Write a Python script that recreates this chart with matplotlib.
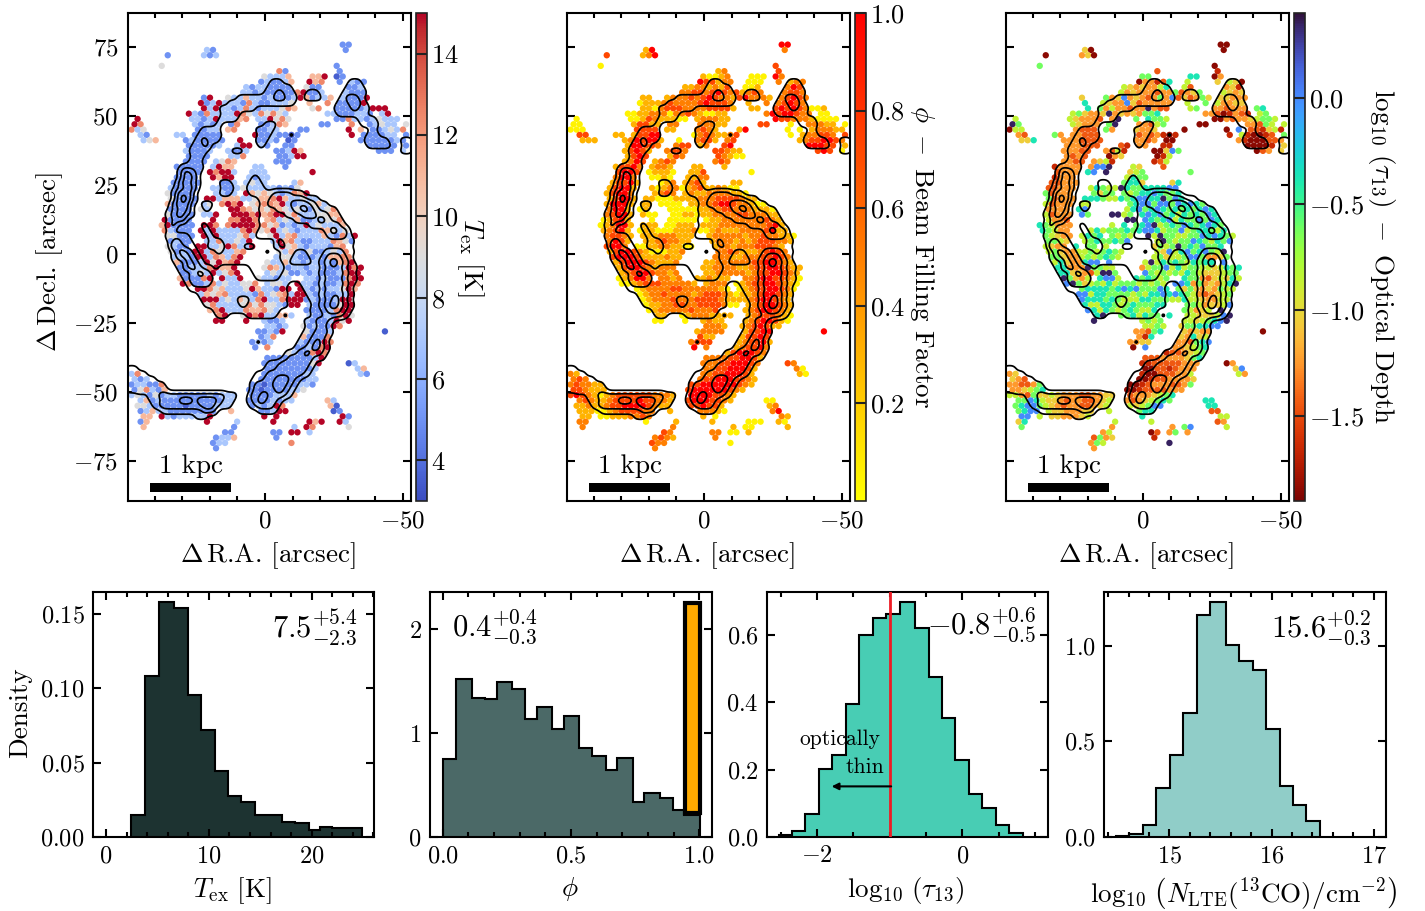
#!/usr/bin/env python3
"""
Molecular gas maps (T_ex, beam filling, optical depth) and the matching histograms
"""

import matplotlib
matplotlib.use('Agg')
import numpy as np
import matplotlib.pyplot as plt
from matplotlib.patches import Rectangle
from matplotlib.ticker import MultipleLocator
from matplotlib.tri import Triangulation, LinearTriInterpolator

plt.rcParams['font.family'] = 'cmr10'
plt.rcParams['mathtext.fontset'] = 'cm'
plt.rcParams['axes.linewidth'] = 1.5

# Hexagonal sightline grid on the sky (arcsec)
RA_START, RA_STEP = 48.31, 2.185
DEC_START, DEC_STEP = 75.84, 1.924

TEX_VALUES = [3.5, 5.0, 7.0, 9.0, 11.0, 12.5, 15.0]
TEX_ROWS = [
    "35:11", "12:21 35:1", "6:1 12:212", "", "5:3 34:1", "24:51 34:1",
    "22:32224 30:446 34:01", "21:121124 29:645 34:1 36:211", "19:21221111 29:311 36:112",
    "18:22121111156112 35:2111", "12:16 16:322422121112641224 35:21116",
    "11:6126 15:222152112223 29:4 32:5 34:11116",
    "12:6262212521222354 30:35 34:111112666",
    "9:62152222653253532 32:22111221 41:26",
    "1:6 10:221262 16:2245 21:226353 34:11522123222",
    "0:65 10:21212 16:15 21:11254 31:11 36:5 39:12322 45:3",
    "0:523 11:1122 16:45 21:1122 28:11 36:6 38:4 40:11232 45:5",
    "1:21 7:22 10:11111 20:6 21:1121 25:101 36:6 38:111122 45:1",
    "2:234 9:1211111 18:6 21:1121 26:01 38:1 39:111112 45:1",
    "9:111112 17:266 21:21 25:11 39:11111 45:1",
    "9:21112 16:2112 24:11264 41:111 45:2",
    "9:1111 16:225 24:11266", "9:1111 14:2354 24:111",
    "7:11111 13:2644 20:22 25:1", "8:1111 13:65662 20:222 30:6",
    "7:1111 13:6466 19:2122", "7:11111 15:112 19:2322 27:24",
    "6:21111 13:22112 18:3222221213", "6:31111 14:2212 19:64343212546",
    "6:31111 12:66 14:24442 19:234456422322",
    "6:41111 12:23 15:5656 20:3455462122342",
    "6:1111 11:32 16:665 19:434354323213235",
    "6:31111 12:22 14:6 17:66656 22:4566352223344",
    "5:61111 13:6 16:55665 22:4523241122335",
    "5:461111 12:665 16:566665 22:53412126232224",
    "5:52111 11:6262 15:222565 21:346232122254323",
    "6:33111 12:626222 18:352 23:362452222421526",
    "6:1211 12:22522326 23:26452112225431",
    "6:3211 11:6622365226 24:263421222145",
    "6:3121662532245 24:324213112325",
    "7:222166254256 24:2332111214455",
    "7:41112636456 22:322422122121456",
    "8:1122256446 22:35421221221112656",
    "8:1123262356 22:2323112121112566",
    "8:411156 15:6226 21:322122 29:2212111566",
    "8:6511252322335 22:2332 27:62212112565",
    "11:66534222364 22:22166 28:6212122364",
    "11:24345222215 22:23452 27:6621211226",
    "12:66623243256225 26:666 29:12111266",
    "12:35222235353321 26:66 29:21111366",
    "13:456222544532 29:11112566",
    "14:56 18:3656224 25:42 29:21121563",
    "14:66 19:6 22:2112 29:21112636",
    "22:2212 28:3121165", "21:11216 29:31112 42:0", "21:125 28:41115",
    "20:1212 28:211165", "20:1 22:5 27:112156", "26:3211565",
    "22:1111111126", "22:1111111136 36:02", "22:111111112 37:24",
    "0:25 22:111111122 38:21", "0:212 21:1111111122",
    "0:122115 20:11011111221", "0:135214 19:1101111223",
    "0:232131221111121222 20:11112224", "1:2412111111111122 19:11112122 32:42",
    "1:3321111101111222 20:121265 33:40", "1:1242211111111 16:4 21:11266 33:01",
    "2:44 5:621222226 22:6 24:6 35:61", "1:14 12:6 17:2 23:6 29:646 34:62",
    "2:4 17:1 27:2 29:65 36:3", "15:11 23:11 26:66 29:2", "14:1224 24:1",
    "13:122 26:5", "14:1",
]

PHI_VALUES = [0.05, 0.3, 0.5, 0.72, 1.0]
PHI_ROWS = [
    "35:44", "12:14 35:2", "6:3 12:124", "", "5:0 34:3", "24:12 34:3",
    "22:10012 30:000 34:42", "21:433122 29:000 34:2 36:122", "19:11221213 29:001 36:243",
    "18:22332343231232 35:2332", "12:11 16:122232343221342221 35:23432",
    "11:0111 15:232222343332 29:1 32:2 34:23432",
    "12:1102333222233331 30:11 34:343432001",
    "9:00112220223210011 32:24344322 41:00",
    "1:0 10:001321 16:1100 21:122211 34:43322210000",
    "0:00 10:13311 16:22 21:22211 31:33 36:0 39:22211 45:0",
    "0:000 11:3333 16:11 21:2321 28:14 36:0 38:0 40:12221 45:1",
    "1:33 7:11 10:13344 20:0 21:2321 25:123 36:0 38:122332 45:3",
    "2:111 9:1243441 18:0 21:2331 26:23 38:1 39:233443 45:2",
    "9:144332 17:233 21:12 25:34 39:44433 45:1",
    "9:13431 16:2332 24:33211 41:343 45:0",
    "9:1343 16:132 24:32100", "9:1243 14:1232 24:232",
    "7:13342 13:1221 20:11 25:1", "8:3443 13:01110 20:113 30:0",
    "7:2442 13:0010 19:1122", "7:13341 15:012 19:1231 27:11",
    "6:13441 13:10122 18:0123112100", "6:13442 14:1232 19:12112222110",
    "6:13441 12:11 14:00011 19:112223333211",
    "6:14441 12:11 15:0000 20:1122344322100",
    "6:2441 11:01 16:000 19:001122332221110",
    "6:23441 12:10 14:0 17:00110 22:1122223322211",
    "5:01341 13:0 16:00000 22:0112222222321",
    "5:012441 12:111 16:00111 22:11122222222341",
    "5:12341 11:0110 15:001112 21:001211122223411",
    "6:23321 12:111222 18:111 23:122222122322110",
    "6:2431 12:11232211 23:12221212333221",
    "6:3442 11:0011221100 24:122122233321",
    "6:1344321000112 24:223211123432",
    "7:344431111211 24:2221122233432",
    "7:13444321112 22:112222223344321",
    "8:1344321222 22:11222211233443211",
    "8:1234432212 22:1122222123344321",
    "8:012442 15:2212 21:112111 29:2234433210",
    "8:0012333222221 22:1222 27:01233443210",
    "11:01222233222 22:22210 28:0123344320",
    "11:01223222212 22:33321 27:0112344321",
    "12:01222322233332 26:111 29:12344321",
    "12:01122332233332 26:00 29:12344321",
    "13:012222232223 29:12344321",
    "14:11 18:0122211 25:11 29:12333210",
    "14:00 19:0 22:1211 29:12344310",
    "22:2221 28:1234311", "21:12222 29:13344 42:4", "21:311 28:13343",
    "20:2333 28:123341", "20:4 22:2 27:123342", "26:1344432",
    "22:2222334431", "22:2223344432 36:32", "22:223344431 37:20",
    "0:21 22:223344431 38:10", "0:232 21:2334443321",
    "0:232211 20:33444444321", "0:332111 19:3444444321",
    "0:343210123333332221 20:44443321", "1:2321123333433221 19:34443321 32:00",
    "1:1121123344443211 20:334331 33:12", "1:1110012333322 16:1 21:22210 33:24",
    "2:11 5:001112232 22:1 24:0 35:21", "1:22 12:0 17:1 23:1 29:000 34:10",
    "2:2 17:2 27:1 29:00 36:1", "15:32 23:22 26:00 29:1", "14:2321 24:2",
    "13:322 26:0", "14:2",
]

TAU_VALUES = [-1.85, -1.65, -1.45, -1.25, -1.05, -0.85, -0.62, -0.38, 0.0, 0.35]
TAU_ROWS = [
    "35:00", "12:40 35:0", "6:0 12:340", "", "5:6 34:0", "24:2 34:1",
    "22:66. 30:77 34:03", "21:033127 29:5 34:4 36:540", "19:54343357 29:52 36:341",
    "18:53433323362346 35:5434", "12:4. 16:634834323638242364 35:44333",
    "11:.7.. 15:543384233333 29:5 32:6 34:53344",
    "12:.7.635332339322. 30:56 34:332333.67",
    "9:.564334934343667. 32:33201321 41:56",
    "1:5 10:543332 16:.39. 21:6.7665 34:00323345665",
    "0:96 10:54333 16:69 21:33256 31:00 36:. 39:33265 45:5",
    "0:055 11:3222 16:63 21:4334 28:.0 36:0 38:8 40:22145 45:1",
    "1:32 7:63 10:33222 20:. 21:2323 25:101 36:1 38:5 39:10012 45:6",
    "2:447 9:3332222 18:. 21:3323 26:00 38:3 39:100022 45:3",
    "9:333222 17:.21 21:33 25:11 39:00001 45:4",
    "9:33322 16:3251 24:00486 41:023 45:4",
    "9:3232 16:034 24:015..", "9:3322 14:3451 24:125",
    "7:13333 13:3889 20:54 25:2", "8:2333 13:78.9. 20:456 30:6",
    "7:1333 13:.... 19:5766", "7:22333 15:... 19:6774 27:47",
    "6:22333 13:57655 18:9766777788", "6:62333 14:6466 19:6567787667",
    "6:62333 12:77 14:76557 19:6788779687",
    "6:52333 12:55 15:.... 20:6788688687876",
    "6:3333 11:78 16:... 19:578678767676787",
    "6:52333 12:86 14:. 17:9956. 22:7878675767687",
    "5:.5332 13:. 16:...99 22:8767857668687",
    "5:765333 12:... 16:.5.7.6 22:78956768767876",
    "5:76533 11:..57 15:566676 21:788756685677657",
    "6:65433 12:5767.6 18:565 23:959665566878765",
    "6:6654 12:56766768 23:.5965668765768",
    "6:5433 11:7.66.5.... 24:465696768667",
    "6:5643355656765 24:548578678659",
    "7:664335656765 24:5645568863346",
    "7:57433788.8.. 22:595767657677.8",
    "8:7733396655 22:35668575665545767",
    "8:7744325996 22:8656565765444566",
    "8:.96435 15:7885 21:767656 29:7663245475",
    "8:.8964565756665 22:6565 27:88736343579",
    "11:.6777767878 22:66687 28:6464343655",
    "11:88577666656 22:57787 27:8765323456",
    "12:87776765557766 26:655 29:75543355",
    "12:75577656766677 26:.. 29:66534458",
    "13:875765676557 29:65345.9",
    "14:79 18:6675766 25:.7 29:55444589",
    "14:9. 19:. 22:5656 29:55456789",
    "22:5565 28:4667788", "21:33267 29:43433 42:0", "21:317 28:43745",
    "20:3344 28:332678", "20:0 22:8 27:334567", "26:1223456",
    "22:2223333467", "22:1122222333 36:03", "22:002212333 37:48",
    "0:34 22:100222335 38:53", "0:432 21:0012233334",
    "0:332236 20:00123332236", "0:334567 19:0012222333",
    "0:553264454333223344 20:23334567", "1:6687544323322345 19:32345676 32:77",
    "1:6788654323322345 20:545688 33:77", "1:6788.54433344 16:5 21:677.. 33:22",
    "2:88 5:5.4433345 22:7 24:. 35:55", "1:47 12:. 17:5 23:5 29:... 34:23",
    "2:6 17:3 27:3 29:68 36:5", "15:35 23:02 26:36 29:3", "14:2634 24:1",
    "13:365 26:9", "14:3",
]

# 13CO intensity, contoured at the levels below
CO_LEVELS = [0.45, 1.4, 2.3, 3.2]
CO_ROWS = [
    "", "", "", "", "", "", "",
    "23:11 36:11", "23:1111 36:111", "22:11211 29:11 35:1111",
    "18:1111112211 29:111 35:1221", "16:11111111111 34:11221",
    "15:111111 34:111211", "15:111 34:11111", "15:111 38:111", "14:1 22:11 38:111",
    "12:111 21:111 40:1", "11:1111 21:11 26:1 39:11", "11:1211 21:11 39:1111 45:11",
    "10:112 21:1 39:1111 45:11", "10:111 17:11 45:11", "10:11", "10:11", "8:1111",
    "8:1321", "8:232 20:1", "8:2321 15:11 20:11", "7:1232 15:11 19:111",
    "7:1332 15:11 20:11 22:1122211", "7:2431 21:1122222211",
    "7:2331 12:11 22:12222333211", "6:1232 12:1 21:1112223432111",
    "6:12321 22:1111222332211", "6:122 21:11111122223211",
    "6:12 12:1 22:11111111222221", "6:1 12:1 21:111111111112322",
    "6:1111 13:1 21:1111111111112221", "6:1211 13:11 24:2111111111111",
    "7:3211 13:111 19:11 24:1211111111111",
    "7:2321 14:1 22:1 25:11 29:111 32:222 35:11",
    "7:12321 25:11 30:1123321", "7:11321 25:1 30:1234321",
    "8:123211 15:11111 26:111111233211", "8:112321111111 25:111111233321",
    "9:122221111111 25:1111111233211", "9:12221111111111111 28:111233321",
    "10:1111111111111111 29:11123321", "11:111111111111111 29:11233321",
    "12:11111122111111 30:1123421", "12:11111121111111 30:1234321",
    "14:11111111111 30:1123321", "14:11 19:11111 25:1 30:112221",
    "29:11221", "29:1121", "29:11221", "28:11221", "21:1 28:11231", "27:112321",
    "26:1123221", "25:1222211", "23:11222221", "-1:11 22:11222221",
    "-1:1111 21:112222221", "-1:11111 20:11223321", "-1:1111111 20:12223321",
    "-1:1121111 20:2222321", "3:112222222222211 20:2232221",
    "3:11222332333211 19:123221", "4:1222222233211 20:12221",
    "5:111111122 21:111", "11:11",
]

RA_MAJOR = [0, -50]
DEC_MAJOR = [75, 50, 25, 0, -25, -50, -75]

# Histograms: bin edges and densities
TEX_EDGES = [2.46, 3.82, 5.11, 6.63, 7.96, 9.26, 10.55, 11.88, 13.17, 14.47, 15.8, 17.1, 18.4, 19.7, 20.8, 22.0, 23.3, 24.9]
TEX_DENSITY = [0.015, 0.108, 0.1576, 0.1536, 0.0953, 0.0719, 0.0444, 0.0277, 0.0237, 0.0147, 0.0147, 0.0103, 0.0094, 0.0049, 0.0067, 0.006, 0.0062]
PHI_EDGES = [0, .052, .112, .165, .21, .27, .322, .367, .427, .471, .531, .583, .638, .68, .74, .785, .846, .898, .94, 1.003]
PHI_DENSITY = [.75, 1.52, 1.343, 1.33, 1.49, 1.423, 1.135, 1.256, 1.042, 1.167, .853, .782, .647, .76, .333, .423, .378, .263, .215]
PHI_PEAK_EDGES = [0.945, 1.003]
PHI_PEAK_RANGE = [0.23, 2.256]
TAU_EDGES = [-2.523, -2.344, -2.16, -1.972, -1.789, -1.601, -1.417, -1.234, -1.046, -.862, -.651, -.463, -.28, -.096, .092, .275, .459, .647, .835]
TAU_DENSITY = [.007, .017, .068, .202, .243, .394, .598, .648, .66, .695, .62, .473, .354, .229, .127, .087, .036, .012]
NCO_EDGES = [14.476, 14.606, 14.74, 14.873, 15.007, 15.137, 15.27, 15.40, 15.55, 15.684, 15.814, 15.945, 16.078, 16.205, 16.339, 16.472]
NCO_DENSITY = [.003, .014, .061, .254, .428, .647, 1.16, 1.226, 1.002, .922, .87, .563, .264, .169, .082]


def px_axes(fig, left, right, top, bottom):
    """Axes from pixel edges of the 1425x911 canvas"""
    W, H = 1425.0, 911.0
    return fig.add_axes([left / W, 1 - bottom / H, (right - left) / W, (bottom - top) / H])


def read_rows(rows, values=None):
    """Expand the row strings into ra, dec, value"""
    ra, dec, val = [], [], []
    for i, row in enumerate(rows):
        for seg in row.split():
            start, levels = seg.split(':')
            for k, c in enumerate(levels):
                if c == '.':
                    continue
                j = int(start) + k
                ra.append(RA_START - RA_STEP * (j + 0.5 * (i % 2)))
                dec.append(DEC_START - DEC_STEP * i)
                val.append(values[int(c)] if values else float(c))
    return np.array(ra), np.array(dec), np.array(val)


def co_field():
    """CO levels resampled from the hex grid to a fine regular grid, lightly smoothed"""
    field = {}
    for i, row in enumerate(CO_ROWS):
        for seg in row.split():
            start, levels = seg.split(':')
            for k, c in enumerate(levels):
                field[(i, int(start) + k)] = float(c)
    ra, dec, z = [], [], []
    for i in range(-2, 80):
        for j in range(-3, 50):
            ra.append(RA_START - RA_STEP * (j + 0.5 * (i % 2)))
            dec.append(DEC_START - DEC_STEP * i)
            z.append(field.get((i, j), 0.0))
    interp = LinearTriInterpolator(Triangulation(ra, dec), np.array(z))
    ra_fine = np.arange(-54.0, 52.0, 0.4)
    dec_fine = np.arange(-80.0, 78.0, 0.4)
    grid = np.ma.filled(interp(*np.meshgrid(ra_fine, dec_fine)), 0.0)
    offset = np.arange(-6, 7) * 0.4
    kernel = np.exp(-0.5 * (offset / 0.85) ** 2)
    kernel /= kernel.sum()
    grid = np.apply_along_axis(lambda v: np.convolve(v, kernel, mode='same'), 0, grid)
    grid = np.apply_along_axis(lambda v: np.convolve(v, kernel, mode='same'), 1, grid)
    return ra_fine, dec_fine, grid


CO_RA, CO_DEC, CO_GRID = co_field()


def draw_map(fig, left, rows, values, cmap, vmin, vmax, cticks, cticklabels, clabel, clabel_x, first=False):
    ax = px_axes(fig, left, left + 283, 13, 501)
    ra, dec, val = read_rows(rows, values)
    sc = ax.scatter(ra, dec, c=val, s=21, cmap=cmap, vmin=vmin, vmax=vmax, linewidths=0, zorder=2)
    ax.contour(CO_RA, CO_DEC, CO_GRID, levels=CO_LEVELS, colors='k', linewidths=1.25, zorder=3)
    ax.set_xlim(49.6, -52.9)
    ax.set_ylim(-89.5, 87.3)

    ax.set_xticks(RA_MAJOR, [r'$%d$' % v for v in RA_MAJOR], fontsize=18)
    ax.xaxis.set_minor_locator(MultipleLocator(10))
    if first:
        ax.set_yticks(DEC_MAJOR, [r'$%d$' % v for v in DEC_MAJOR], fontsize=18)
        ax.set_ylabel(r'$\Delta\,$Decl. [arcsec]', fontsize=19.5)
        ax.yaxis.set_label_coords(-0.223, 0.49)
    else:
        ax.set_yticks(DEC_MAJOR, [''] * len(DEC_MAJOR))
    ax.tick_params(which='major', direction='in', top=True, right=True, length=6, width=1.5, pad=7)
    ax.tick_params(which='minor', direction='in', top=True, length=3.5, width=1.5)
    ax.set_xlabel(r'$\Delta\,$R.A. [arcsec]', fontsize=19.5)
    ax.xaxis.set_label_coords(0.495, -0.08)

    # scale bar
    ax.add_patch(Rectangle((41.67, -86.2), -29.35, 3.2, facecolor='k', edgecolor='none', zorder=4))
    ax.text(26.8, -79.4, '1 kpc', fontsize=19.5, ha='center', va='baseline', zorder=4)

    cax = px_axes(fig, left + 288, left + 299, 13, 501)
    cb = fig.colorbar(sc, cax=cax)
    cb.set_ticks(cticks, labels=cticklabels)
    cax.tick_params(direction='in', length=8, width=1.5, labelsize=19, pad=3, color='#222222')
    cb.outline.set_linewidth(1.2)
    cb.outline.set_edgecolor('#222222')
    cax.set_ylabel(clabel, rotation=270, fontsize=19.5, va='center')
    cax.yaxis.set_label_coords(clabel_x, 0.5)
    return ax


def draw_hist(fig, left, right, edges, density, color, xlim, ylim, xmajor, xlabels, xminor, ymajor, ylabels, xlabel):
    ax = px_axes(fig, left, right, 592, 837)
    ax.stairs(density, edges, fill=True, color=color, linewidth=0)
    ax.stairs(density, edges, baseline=0, color='k', linewidth=1.5)
    ax.set_xlim(*xlim)
    ax.set_ylim(*ylim)
    ax.set_xticks(xmajor, xlabels, fontsize=17.5)
    ax.set_yticks(ymajor, ylabels, fontsize=17.5)
    ax.xaxis.set_minor_locator(MultipleLocator(xminor))
    ax.tick_params(which='major', direction='in', top=True, right=True, length=6, width=1.5, pad=6)
    ax.tick_params(which='minor', direction='in', top=True, length=3.5, width=1.5)
    ax.set_xlabel(xlabel, fontsize=19.5)
    ax.xaxis.set_label_coords(0.495, -0.155)
    return ax


fig = plt.figure(figsize=(14.25, 9.11), dpi=100)

draw_map(fig, 128, TEX_ROWS, TEX_VALUES, 'coolwarm', 3, 15,
         [4, 6, 8, 10, 12, 14], [r'$%d$' % v for v in [4, 6, 8, 10, 12, 14]],
         r'$T_{\mathrm{ex}}\ \mathrm{[K]}$', 4.9, first=True)
draw_map(fig, 567, PHI_ROWS, PHI_VALUES, 'autumn_r', 0, 1,
         [0.2, 0.4, 0.6, 0.8, 1.0], [r'$%.1f$' % v for v in [0.2, 0.4, 0.6, 0.8, 1.0]],
         r'$\phi\ -\ $Beam Filling Factor', 6.1)
draw_map(fig, 1006, TAU_ROWS, TAU_VALUES, 'turbo_r', -1.9, 0.4,
         [-1.5, -1.0, -0.5, 0.0], [r'$%.1f$' % v for v in [-1.5, -1.0, -0.5, 0.0]],
         r'$\log_{10}\,(\tau_{13})\ -\ $Optical Depth', 8.0)

ax1 = draw_hist(fig, 93, 374, TEX_EDGES, TEX_DENSITY, '#1d3331', (-1.26, 26.05), (0, 0.1645),
                [0, 10, 20], ['$0$', '$10$', '$20$'], 2,
                [0, 0.05, 0.10, 0.15], ['$0.00$', '$0.05$', '$0.10$', '$0.15$'],
                r'$T_{\mathrm{ex}}\ \mathrm{[K]}$')
ax1.set_ylabel('Density', fontsize=19.5)
ax1.yaxis.set_label_coords(-0.217, 0.506)
ax1.text(0.943, 0.816, r'$7.5^{+5.4}_{-2.3}$', transform=ax1.transAxes, fontsize=22, ha='right', va='baseline')

ax2 = draw_hist(fig, 430, 712, PHI_EDGES, PHI_DENSITY, '#4b6967', (-0.05, 1.05), (0, 2.36),
                [0, 0.5, 1.0], ['$0.0$', '$0.5$', '$1.0$'], 0.1,
                [0, 1, 2], ['$0$', '$1$', '$2$'], r'$\phi$')
ax2.add_patch(Rectangle((PHI_PEAK_EDGES[0], PHI_PEAK_RANGE[0]), PHI_PEAK_EDGES[1] - PHI_PEAK_EDGES[0],
                        PHI_PEAK_RANGE[1] - PHI_PEAK_RANGE[0], facecolor='#ffaa00', edgecolor='k', linewidth=3, zorder=3))
ax2.text(0.077, 0.816, r'$0.4^{+0.4}_{-0.3}$', transform=ax2.transAxes, fontsize=22, ha='left', va='baseline')

ax3 = draw_hist(fig, 767, 1048, TAU_EDGES, TAU_DENSITY, '#48cdb4', (-2.69, 1.18), (0, 0.726),
                [-2, 0], ['$-2$', '$0$'], 0.5,
                [0, 0.2, 0.4, 0.6], ['$0.0$', '$0.2$', '$0.4$', '$0.6$'],
                r'$\log_{10}\,(\tau_{13})$')
ax3.axvline(-1, color='#ee1c25', linewidth=2, zorder=3)
ax3.annotate('', xy=(-1.8, 0.15), xytext=(-0.98, 0.15),
             arrowprops=dict(arrowstyle='-|>', color='k', lw=1.5, shrinkA=0, shrinkB=0), zorder=4)
ax3.text(-1.13, 0.273, 'optically', fontsize=15.5, ha='right', va='baseline', zorder=4)
ax3.text(-1.08, 0.19, 'thin', fontsize=15.5, ha='right', va='baseline', zorder=4)
ax3.text(0.957, 0.824, r'$-0.8^{+0.6}_{-0.5}$', transform=ax3.transAxes, fontsize=22, ha='right', va='baseline')

ax4 = draw_hist(fig, 1104, 1386, NCO_EDGES, NCO_DENSITY, '#90cdc8', (14.36, 17.12), (0, 1.28),
                [15, 16, 17], ['$15$', '$16$', '$17$'], 0.2,
                [0, 0.5, 1.0], ['$0.0$', '$0.5$', '$1.0$'],
                r'$\log_{10}\,\left(N_{\mathrm{LTE}}(^{13}\mathrm{CO})/\mathrm{cm}^{-2}\right)$')
ax4.text(0.949, 0.812, r'$15.6^{+0.2}_{-0.3}$', transform=ax4.transAxes, fontsize=22, ha='right', va='baseline')

fig.savefig('out.png', dpi=100, facecolor='white')
plt.close(fig)
